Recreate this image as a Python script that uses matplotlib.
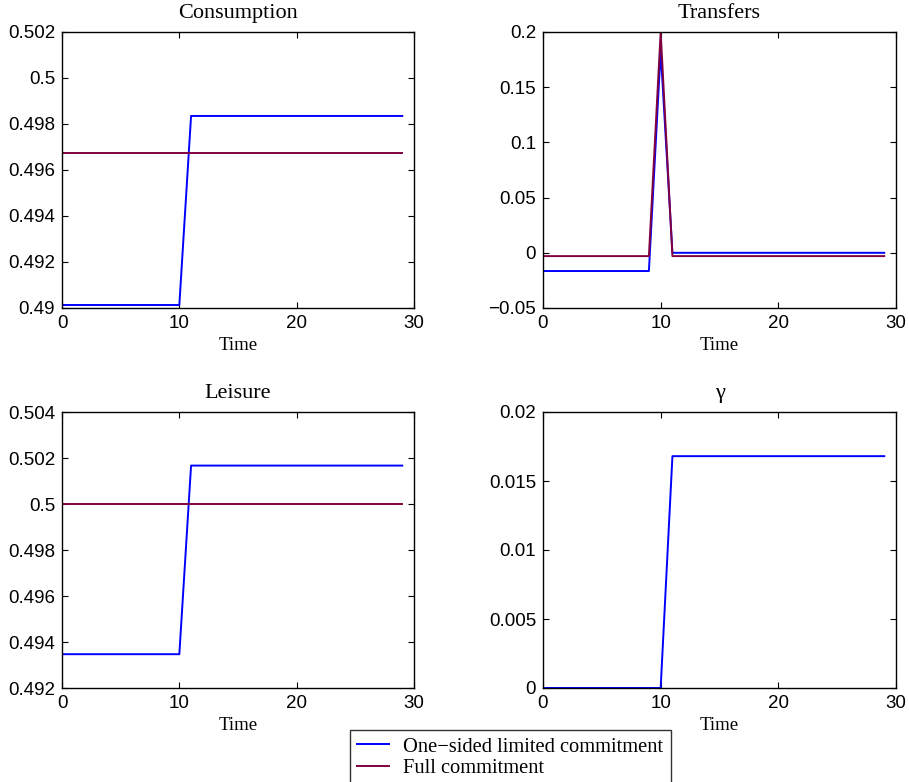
import matplotlib
matplotlib.use("Agg")
import matplotlib.pyplot as plt
from matplotlib.ticker import FuncFormatter

# periods 0..29
time = list(range(30))

# one-sided limited commitment
cons_lc = [0.49013] * 11 + [0.49835] * 19
transf_lc = [-0.0165] * 10 + [0.183] + [0.0] * 19
leis_lc = [0.49347] * 11 + [0.50167] * 19
gamma_lc = [0.0] * 11 + [0.0168] * 19

# full commitment
cons_fc = [0.49675] * 30
transf_fc = [-0.003] * 10 + [0.2] + [-0.003] * 19
leis_fc = [0.5] * 30

titles = ["Consumption", "Transfers", "Leisure", "\u03b3"]
yticks = [
    [0.49, 0.492, 0.494, 0.496, 0.498, 0.5, 0.502],
    [-0.05, 0, 0.05, 0.1, 0.15, 0.2],
    [0.492, 0.494, 0.496, 0.498, 0.5, 0.502, 0.504],
    [0, 0.005, 0.01, 0.015, 0.02],
]
legend_labels = ["One\u2212sided limited commitment", "Full commitment"]

BLUE = (0, 0, 1)
RED = (0.5, 0, 0.25)
W, H = 909, 782


def fmt(v, pos):
    return ("%g" % round(v, 6)).replace("-", "\u2212")


fig = plt.figure(figsize=(W / 100, H / 100), dpi=100)

# axes boxes in pixels: left, top, right, bottom
boxes = [(62, 32, 414, 308), (543, 32, 896, 308),
         (62, 412, 414, 688), (543, 412, 896, 688)]
series = [(cons_lc, cons_fc), (transf_lc, transf_fc),
          (leis_lc, leis_fc), (gamma_lc, None)]

handles = None
for i, (l, t, r, b) in enumerate(boxes):
    ax = fig.add_axes([l / W, 1 - b / H, (r - l) / W, (b - t) / H])
    lc, fc = series[i]
    h1, = ax.plot(time, lc, color=BLUE, lw=1.4)
    if fc is not None:
        h2, = ax.plot(time, fc, color=RED, lw=1.4)
        handles = [h1, h2]
    ax.set_xlim(0, 30)
    ax.set_xticks([0, 10, 20, 30])
    ax.set_ylim(yticks[i][0], yticks[i][-1])
    ax.set_yticks(yticks[i])
    ax.yaxis.set_major_formatter(FuncFormatter(fmt))
    ax.tick_params(direction="in", top=True, right=True, length=4,
                   width=0.8, labelsize=13.5, pad=5)
    for lab in ax.get_xticklabels() + ax.get_yticklabels():
        lab.set_family("Liberation Sans")
    for s in ax.spines.values():
        s.set_linewidth(1.0)
    ax.set_title(titles[i], family="Liberation Serif", fontsize=16, pad=10)
    ax.set_xlabel("Time", family="Liberation Serif", fontsize=13.5, labelpad=4)

leg = fig.legend(handles, legend_labels, loc="upper left",
                 bbox_to_anchor=(350 / W, 1 - 730 / H),
                 prop={"family": "Liberation Serif", "size": 14.8},
                 frameon=True, fancybox=False, handlelength=1.55,
                 handletextpad=0.7, borderaxespad=0, labelspacing=0.1,
                 borderpad=0.35)
leg.get_frame().set_edgecolor("black")
leg.get_frame().set_linewidth(1.0)

fig.savefig("out.png", dpi=100)
